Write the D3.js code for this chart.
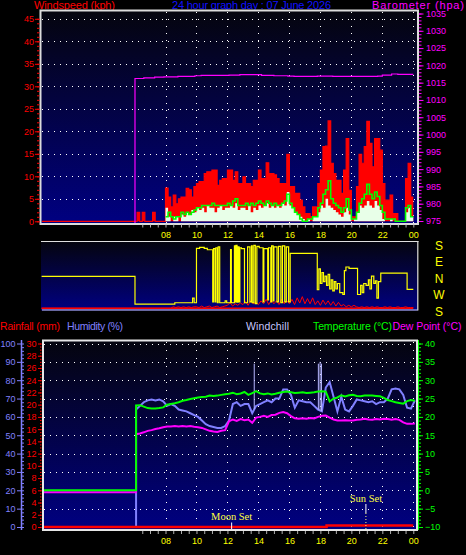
<!DOCTYPE html>
<html><head><meta charset="utf-8">
<script src="https://cdn.jsdelivr.net/npm/d3@7"></script>
<style>html,body{margin:0;background:#000;}svg{display:block;}</style>
</head><body>
<svg id="chart" width="466" height="555"></svg>
<script>
// ---------------- DATA ----------------
const dateTitle = "24 hour graph day : 07 June 2026";
const timeTicks = [8, 10, 12, 14, 16, 18, 20, 22, 24];
const windTicks = [0, 5, 10, 15, 20, 25, 30, 35, 40, 45];
const baroTicks = [975, 980, 985, 990, 995, 1000, 1005, 1010, 1015, 1020, 1025, 1030, 1035];
const dirLabels = ["S", "W", "N", "E", "S"];
const dirLabelValues = [180, 270, 360, 450, 540];
const humTicks = [0, 10, 20, 30, 40, 50, 60, 70, 80, 90, 100];
const rainTicks = [0, 2, 4, 6, 8, 10, 12, 14, 16, 18, 20, 22, 24, 26, 28, 30];
const tempTicks = [-10, -5, 0, 5, 10, 15, 20, 25, 30, 35, 40];

// wind: 10-minute samples from 06:00
const windStart = 6, windStepH = 1 / 6;
const gust = [0,2,0,2,0,0,0,2,0,0,0,0,
  7.4,5.4,3.2,5.8,3.9,5,5.4,5.4,7.3,7,5.4,7.7,
  8.4,8.8,8.8,10.6,11,11,11.4,11.4,8,9.1,9.5,9.5,
  11.4,11.4,9.1,11,8.4,8.4,9.9,8.4,8.4,7.7,9.1,9.1,
  11.4,9.5,9.5,13,10.6,10.6,10.3,9.5,8.4,8.4,8.4,14.9,
  7.7,7.7,6.2,6.2,4.7,3.2,1.7,1.7,1,3.2,3.2,8.4,
  11.4,16.6,16.7,22.3,12.9,10.6,9.1,9.1,6.2,11.4,18.4,6.9,
  1,1,7.7,14.9,12.9,16.6,22.2,17.3,12.1,18.4,18.4,15.8,
  8.4,4.7,4.7,5.8,1.7,1.7,0,0,0,9.5,12.9,5.4];
const speed = [0,0,0,0,0,0,0,0,0,0,0,0,
  3,1,0,1,1,0,1.5,1,2,1.5,2.5,2,
  3,2.5,3,2,3.5,3,3,2,3,3.5,2.5,3,
  3,3.5,3,4,2.5,3,3,2.5,3.5,2,3,2.5,
  3.5,3,3.5,4,3,3.5,3,3.5,3,4,3.5,6.5,
  3.5,3,2,1.5,1,0.5,0,0.5,0,1,1,2,
  3.5,3,5,3.5,3,2.5,2,1.5,1,2,3,1.5,
  0,0.5,2,3.5,3,3.5,4.5,3.5,3,4.5,3.5,2.5,
  0.5,0,0,0.5,0,0,0,0,0,2,3,1];
const avgSpeed = [0,0,0,0,0,0,0,0,0,0,0,0,
  1,2,1,0.5,1,1,2,1.5,2,1.5,2,2.5,
  3,3,3.5,3.5,3.5,3.5,4,3.5,3.5,3.5,3.5,3.5,
  4,3.5,4.5,5,3.5,3.5,3.5,4,3.5,4,3.5,4,
  4.5,4,3.5,4.5,4,3.5,4,3.5,3.5,4,4.5,6,
  4,3,2,1.5,0.5,0,0,0.5,0.5,1,1,3,
  4,6,7,9,5,4,3.5,3,2,3,5,2.5,
  0.5,0.5,2,4,5,6,8.2,6,5,6.5,5.5,3.5,
  2,0.5,0.5,0.5,0.5,0,0,0,0,3,3.5,1];
const avgStart = 8;

const baroTimes = [0, 6.03, 6.6, 7.3, 7.9, 8.8, 9.9, 10.3, 11.3, 12.1, 12.8, 13.9, 14.2, 15.0, 15.9, 16.3, 17.0, 17.8, 18.8, 19.7, 20.5, 21.7, 22.0, 22.6, 23.0];
const baroValues = [0, 1016.2, 1016.4, 1016.6, 1016.7, 1016.8, 1017.0, 1017.1, 1017.1, 1017.2, 1017.3, 1017.3, 1017.1, 1017.0, 1016.9, 1016.8, 1016.8, 1016.9, 1016.8, 1016.8, 1016.8, 1016.9, 1017.2, 1017.5, 1017.4];

// wind direction (compass degrees)
const dirTimes = [0,6.03,8.6,9.75,9.85,10.0,10.2,10.5,10.7,11.05,11.1,11.2,11.25,11.35,11.4,11.5,11.85,11.95,12.2,12.25,12.45,12.5,12.55,12.62,12.68,12.75,12.8,12.9,13.1,13.3,13.45,13.55,13.6,13.7,13.8,13.9,14.05,14.3,14.35,14.6,14.65,14.8,14.85,14.95,15.0,15.2,15.3,15.45,15.55,15.7,15.8,15.95,16.05,17.8,17.9,18.0,18.1,18.2,18.3,18.4,18.5,18.6,18.7,18.8,18.9,19.0,19.1,19.25,19.45,19.55,19.65,19.85,20.4,20.6,20.7,20.8,20.95,21.1,21.2,21.3,21.45,21.55,21.65,21.75,21.9,23.6];
const dirValues = [9,218,225,250,225,162,167,162,154,230,160,230,165,225,170,225,235,225,155,225,175,230,178,228,170,230,165,160,225,170,230,175,225,178,220,172,165,230,160,240,165,230,175,235,170,230,172,225,175,230,170,230,134,297,50,330,30,340,10,320,20,300,350,290,340,300,330,280,270,40,60,52,270,320,280,330,320,350,300,10,330,345,250,340,27,298];

// red trace in direction panel, 10-minute samples from 06:00
const dirPanelRed = [0,0,0,0,0,0,0,0,0,0,0,0,0,0,0,
  1,0.5,1,0.5,1,0.5,1,0.5,1,
  1,0.5,1.5,0.5,1,1.5,0.5,1,1.5,0.5,1,1.5,
  2,3.8,1.5,3,2,3.5,
  2.5,4.5,2,5,3,4,2.5,5,
  3,6,2.5,5.5,3,5,2.5,6,3,5,
  3,6,2.5,7,3.5,7.8,3,6.5,3,7,2.5,
  5,2,5.5,2.5,5,2,4.5,1.5,4,
  1.5,2.5,1,2,1,2,1,
  0.5,1,0.5,1,0.5,1,0.5,1,0.5,0.5,1,0.5,1,0.5,0.5,1,0.5,0.5,1,0.5,0.5];

// lower panel: 15-minute samples from 06:06
const lowStart = 6.1, lowStepH = 0.25;
const temperature = [23.1,23.2,22.8,22.4,22.3,22.3,22.4,22.6,23.3,23.5,23.7,24.0,24.4,24.6,24.9,25.1,25.3,25.4,25.5,25.8,25.7,25.8,26.0,26.2,26.3,26.6,26.2,26.4,26.8,26.0,26.5,27.0,26.4,26.2,26.4,26.1,26.3,26.6,26.8,26.9,26.7,26.5,26.6,26.7,26.5,26.6,26.7,26.9,27.0,26.9,24.2,25.0,25.3,25.9,25.6,25.9,26.0,25.7,25.6,25.8,25.8,25.8,25.7,25.6,25.2,24.6,24.3,24.0,23.8,23.6,24.3,24.6,24.4];
const dewPoint = [15.3,15.5,15.8,16.2,16.4,16.7,16.9,17.2,17.4,17.4,17.5,17.4,17.5,17.4,17.5,17.3,17.2,17.0,16.6,16.2,16.0,15.9,16.2,16.4,18.8,19.3,18.9,19.4,19.1,19.3,18.4,19.8,20.0,20.3,20.0,20.5,20.6,21.1,21.3,21.0,20.2,19.6,19.5,19.6,19.5,19.7,19.6,20.0,20.3,20.4,19.8,19.3,19.0,19.0,19.1,19.0,19.0,19.2,19.3,19.5,19.3,19.2,19.4,19.3,19.5,19.4,19.2,19.4,19.2,18.5,18.1,18.1,18.2];
const humidity = [64,66,68,69,69.5,69,69.5,68.5,66,67,66,64,63.5,63,62,61,60,58,56,55,54.5,54,54,55,58,67,68,66,67,67,62,66,67,68,69,68,70,70,75,75,72,65,69,68.5,68,68,66,64,63,76,79,71,63,71,64,63,66,69.5,69,68.5,68,68.5,67,68,68,70,75,75.5,75,72,65,64.5,69];
const tempBefore = 0, dewBefore = -0.5, humBefore = 0;
const humSpikeTimes = [13.73, 17.87, 17.98, 18.07];
const humSpikeValues = [89, 89, 90, 89];
const rainTimes = [0, 18.4];
const rainValues = [0, 0.25];
const moonSet = 12.27, sunSet = 20.94;

// ---------------- DRAWING ----------------
const FONT = "'Liberation Sans', Arial, sans-serif";
const svg = d3.select("#chart");
const defs = svg.append("defs");
const grad = defs.append("linearGradient").attr("id", "bg").attr("x1", 0).attr("y1", 0).attr("x2", 0).attr("y2", 1);
grad.append("stop").attr("offset", "0%").attr("stop-color", "#05050e");
grad.append("stop").attr("offset", "100%").attr("stop-color", "#000082");

const x = d3.scaleLinear().domain([0, 24]).range([41.6, 413.3]);
const wy = d3.scaleLinear().domain([0, 45]).range([221.3, 18.8]);
const by = d3.scaleLinear().domain([975, 1035]).range([221, 13.5]);
const dy = d3.scaleLinear().domain([180, 540]).range([311, 245]);
const my = d3.scaleLinear().domain([0, 45]).range([308.3, 241]);
const hy = d3.scaleLinear().domain([0, 100]).range([527, 343.5]);
const ry = d3.scaleLinear().domain([0, 30]).range([527, 343.5]);
const ty = d3.scaleLinear().domain([-10, 40]).range([527, 343.5]);

function addClip(id, x0, y0, w, h) {
  defs.append("clipPath").attr("id", id).append("rect").attr("x", x0).attr("y", y0).attr("width", w).attr("height", h);
}
addClip("cTop", 41.5, 11.5, 375.5, 211.5);
addClip("cMid", 41, 242, 376, 67.5);
addClip("cLow", 44, 341.5, 372, 187.5);

function txt(s, xx, yy, col, size, anchor, fam, len) {
  const t = svg.append("text").attr("x", xx).attr("y", yy).attr("fill", col)
    .attr("font-family", fam || FONT).attr("font-size", size)
    .attr("text-anchor", anchor || "start").text(s);
  if (len) t.attr("textLength", len).attr("lengthAdjust", "spacing");
  return t;
}

// titles
txt("Windspeed (kph)", 34, 9, "#ff0000", 11, "start", null, 81);
txt(dateTitle, 172, 9, "#1010ff", 11, "start", null, 159);
txt("Barometer (hpa)", 372, 8.5, "#ff00ff", 11, "start", null, 92);
txt("Rainfall (mm)", 0, 330, "#ff0000", 10.5, "start", null, 60);
txt("Humidity (%)", 67, 330, "#8080ff", 10.5, "start", null, 56);
txt("Windchill", 246, 330, "#c8c8ff", 10.5, "start", null, 43);
txt("Temperature (\u00B0C)", 313, 330, "#00ff00", 10.5, "start", null, 79);
txt("Dew Point (\u00B0C)", 392.5, 330, "#ff00ff", 10.5, "start", null, 69);

// ---- top panel ----
svg.append("rect").attr("x", 40.5).attr("y", 10.5).attr("width", 377.5).attr("height", 213.5).attr("fill", "url(#bg)");
const topG = svg.append("g").attr("clip-path", "url(#cTop)");
topG.selectAll("line.hg").data(windTicks.filter(v => v > 0)).join("line")
  .attr("x1", 42).attr("x2", 417).attr("y1", d => Math.round(wy(d)) + 0.5).attr("y2", d => Math.round(wy(d)) + 0.5)
  .attr("stroke", "#fff").attr("stroke-dasharray", "1,5");
topG.selectAll("line.vg").data(timeTicks).join("line")
  .attr("x1", d => Math.round(x(d)) + 0.5).attr("x2", d => Math.round(x(d)) + 0.5).attr("y1", 12).attr("y2", 223)
  .attr("stroke", "#fff").attr("stroke-dasharray", "1,6");

function stepPts(vals, start, step) {
  const p = vals.map((v, i) => ({ t: start + i * step, v }));
  p.push({ t: 24, v: vals[vals.length - 1] });
  return p;
}
const gustPts = [{ t: 0, v: 0 }].concat(stepPts(gust, windStart, windStepH));
const speedPts = stepPts(speed, windStart, windStepH);
const avgPts = stepPts(avgSpeed, windStart, windStepH);

topG.append("path").datum(gustPts)
  .attr("d", d3.area().x(d => x(d.t)).y0(wy(0)).y1(d => wy(d.v)).curve(d3.curveStepAfter))
  .attr("fill", "#ff0000");
topG.append("path").datum(gustPts)
  .attr("d", d3.line().x(d => x(d.t)).y(d => wy(d.v)).curve(d3.curveStepAfter))
  .attr("fill", "none").attr("stroke", "#ff0000").attr("stroke-width", 1.2);
topG.append("path").datum(speedPts)
  .attr("d", d3.area().x(d => x(d.t)).y0(wy(0)).y1(d => wy(d.v)).curve(d3.curveStepAfter))
  .attr("fill", "#e8ffe8");
topG.append("path").datum(avgPts)
  .attr("d", d3.line().defined(d => d.t >= avgStart).x(d => x(d.t)).y(d => wy(d.v)).curve(d3.curveStepAfter))
  .attr("fill", "none").attr("stroke", "#00ff00").attr("stroke-width", 1.6);
const baroPts = baroTimes.map((t, i) => ({ t, v: baroValues[i] }));
baroPts.push({ t: 24, v: baroValues[baroValues.length - 1] });
topG.append("path").datum(baroPts)
  .attr("d", d3.line().x(d => x(d.t)).y(d => by(d.v)).curve(d3.curveStepAfter))
  .attr("fill", "none").attr("stroke", "#ff00ff").attr("stroke-width", 1.2);
svg.append("rect").attr("x", 40.5).attr("y", 10.5).attr("width", 377.5).attr("height", 213.5)
  .attr("fill", "none").attr("stroke", "#dcdcdc").attr("stroke-width", 2);

function styleAxis(sel, col, size) {
  sel.attr("font-family", FONT).attr("font-size", size || 9);
  sel.select(".domain").remove();
  sel.selectAll("line").attr("stroke", col);
  sel.selectAll("text").attr("fill", col);
}
const fmtInt = d3.format("d");
// wind axis
svg.append("g").attr("transform", "translate(39.5,0)")
  .call(d3.axisLeft(wy).tickValues(d3.range(0, 45.1, 1)).tickSize(2.5).tickFormat(""))
  .call(s => styleAxis(s, "#ff0000"));
svg.append("g").attr("transform", "translate(39.5,0)")
  .call(d3.axisLeft(wy).tickValues(windTicks).tickSize(4.5).tickPadding(1).tickFormat(fmtInt))
  .call(s => styleAxis(s, "#ff0000"));
// barometer axis
svg.append("g").attr("transform", "translate(419,0)")
  .call(d3.axisRight(by).tickValues(d3.range(975, 1035.1, 1)).tickSize(2.5).tickFormat(""))
  .call(s => styleAxis(s, "#ff00ff"));
svg.append("g").attr("transform", "translate(419,0)")
  .call(d3.axisRight(by).tickValues(baroTicks).tickSize(4.5).tickPadding(2.5).tickFormat(fmtInt))
  .call(s => styleAxis(s, "#ff00ff"));

// time axis (shared labels + minor ticks)
const halfHours = d3.range(6.5, 24.01, 0.5);
const fmtHour = d => d3.format("02d")(d % 24);
svg.append("g").attr("transform", "translate(0,224.5)")
  .call(d3.axisBottom(x).tickValues(halfHours).tickSize(3).tickFormat(""))
  .call(s => styleAxis(s, "#b0b0b0"));
svg.append("g").attr("transform", "translate(0,232)")
  .call(d3.axisBottom(x).tickValues(timeTicks).tickSize(0).tickPadding(0).tickFormat(fmtHour))
  .call(s => styleAxis(s, "#ffff00"));

// ---- middle (direction) panel ----
svg.append("rect").attr("x", 41).attr("y", 241.5).attr("width", 376.5).attr("height", 69).attr("fill", "url(#bg)");
const midG = svg.append("g").attr("clip-path", "url(#cMid)");
const redPts = [{ t: 0, v: 0 }].concat(stepPts(dirPanelRed, windStart, windStepH));
midG.append("path").datum(redPts)
  .attr("d", d3.line().x(d => x(d.t)).y(d => my(d.v)))
  .attr("fill", "none").attr("stroke", "#ff0000").attr("stroke-width", 1);
midG.append("path").datum(redPts)
  .attr("d", d3.line().x(d => x(d.t)).y(my(0)))
  .attr("fill", "none").attr("stroke", "#ff0000").attr("stroke-width", 1.8);
const dirPts = dirTimes.map((t, i) => ({ t, v: dirValues[i] < 180 ? dirValues[i] + 360 : dirValues[i] }));
dirPts.push({ t: 24, v: dirPts[dirPts.length - 1].v });
midG.append("path").datum(dirPts)
  .attr("d", d3.line().x(d => x(d.t)).y(d => dy(d.v)).curve(d3.curveStepAfter))
  .attr("fill", "none").attr("stroke", "#ffff00").attr("stroke-width", 1.2);
svg.append("line").attr("x1", 41).attr("x2", 418.5).attr("y1", 241.5).attr("y2", 241.5).attr("stroke", "#e0e0e0").attr("stroke-width", 1.2);
svg.append("line").attr("x1", 417.8).attr("x2", 417.8).attr("y1", 241).attr("y2", 310.5).attr("stroke", "#e0e0e0").attr("stroke-width", 1.2);
svg.append("line").attr("x1", 42).attr("x2", 417.5).attr("y1", 310).attr("y2", 310).attr("stroke", "#d0d0ff").attr("stroke-width", 1);
svg.selectAll("text.dir").data(dirLabels).join("text")
  .attr("x", 439).attr("y", (d, i) => dy(dirLabelValues[i]) + 4.5)
  .attr("text-anchor", "middle").attr("fill", "#ffff00")
  .attr("font-family", FONT).attr("font-size", 12).text(d => d);

// ---- lower panel ----
svg.append("rect").attr("x", 43).attr("y", 340.5).attr("width", 374).attr("height", 189.5).attr("fill", "url(#bg)");
const lowG = svg.append("g").attr("clip-path", "url(#cLow)");
lowG.selectAll("line.hg").data(humTicks.filter(v => v > 0)).join("line")
  .attr("x1", 44).attr("x2", 416).attr("y1", d => Math.round(hy(d)) + 0.5).attr("y2", d => Math.round(hy(d)) + 0.5)
  .attr("stroke", "#fff").attr("stroke-dasharray", "1,5");
lowG.selectAll("line.vg").data(timeTicks).join("line")
  .attr("x1", d => Math.round(x(d)) + 0.5).attr("x2", d => Math.round(x(d)) + 0.5).attr("y1", 342).attr("y2", 529)
  .attr("stroke", "#fff").attr("stroke-dasharray", "1,7");

function lowPts(before, vals) {
  return [{ t: 0, v: before }, { t: lowStart, v: before }]
    .concat(vals.map((v, i) => ({ t: lowStart + i * lowStepH, v })));
}
const humPts = lowPts(humBefore, humidity);
lowG.append("path").datum(humPts)
  .attr("d", d3.line().x(d => x(d.t)).y(d => hy(d.v)))
  .attr("fill", "none").attr("stroke", "#8080ff").attr("stroke-width", 2);
const humAt = d3.scaleLinear().domain(humidity.map((v, i) => lowStart + i * lowStepH)).range(humidity);
lowG.selectAll("line.spike").data(humSpikeTimes).join("line")
  .attr("x1", d => x(d)).attr("x2", d => x(d))
  .attr("y1", d => hy(humAt(d))).attr("y2", (d, i) => hy(humSpikeValues[i]))
  .attr("stroke", "#b8b8ff").attr("stroke-width", 1);
lowG.append("path").datum(lowPts(dewBefore, dewPoint))
  .attr("d", d3.line().x(d => x(d.t)).y(d => ty(d.v)))
  .attr("fill", "none").attr("stroke", "#ff00ff").attr("stroke-width", 2);
lowG.append("path").datum(lowPts(tempBefore, temperature))
  .attr("d", d3.line().x(d => x(d.t)).y(d => ty(d.v)))
  .attr("fill", "none").attr("stroke", "#00ff00").attr("stroke-width", 2);
const rainPts = rainTimes.map((t, i) => ({ t, v: rainValues[i] }));
rainPts.push({ t: 24, v: rainValues[rainValues.length - 1] });
lowG.append("path").datum(rainPts)
  .attr("d", d3.line().x(d => x(d.t)).y(d => ry(d.v)).curve(d3.curveStepAfter))
  .attr("fill", "none").attr("stroke", "#ff0000").attr("stroke-width", 2.5);

// moon / sun events
const SERIF = "'Liberation Serif', 'DejaVu Serif', serif";
svg.append("line").attr("x1", x(moonSet)).attr("x2", x(moonSet)).attr("y1", 522.5).attr("y2", 530).attr("stroke", "#fff").attr("stroke-width", 1);
txt("Moon Set", x(moonSet), 520, "#ffff40", 10.5, "middle", SERIF);
svg.append("line").attr("x1", x(sunSet)).attr("x2", x(sunSet)).attr("y1", 504).attr("y2", 513).attr("stroke", "#fff").attr("stroke-width", 1);
svg.append("line").attr("x1", x(sunSet)).attr("x2", x(sunSet)).attr("y1", 513).attr("y2", 530).attr("stroke", "#ffff80").attr("stroke-width", 1).attr("stroke-dasharray", "1,2");
txt("Sun Set", x(sunSet), 501.5, "#ffff40", 10.5, "middle", SERIF);

svg.append("rect").attr("x", 43).attr("y", 340.5).attr("width", 374).attr("height", 189.5)
  .attr("fill", "none").attr("stroke", "#e6e6e6").attr("stroke-width", 2);

// humidity axis
svg.append("line").attr("x1", 21.5).attr("x2", 21.5).attr("y1", 340).attr("y2", 530).attr("stroke", "#8080ff").attr("stroke-width", 1.5);
svg.append("g").attr("transform", "translate(21.5,0)")
  .call(d3.axisRight(hy).tickValues(d3.range(0, 100.1, 2)).tickSize(2.5).tickFormat(""))
  .call(s => styleAxis(s, "#8080ff"));
svg.append("g").attr("transform", "translate(21.5,0)")
  .call(d3.axisLeft(hy).tickValues(humTicks).tickSize(4.5).tickPadding(1.5).tickFormat(fmtInt))
  .call(s => styleAxis(s, "#8080ff"));
// rain axis
svg.append("g").attr("transform", "translate(41.5,0)")
  .call(d3.axisLeft(ry).tickValues(d3.range(0, 30.01, 0.5)).tickSize(1.5).tickFormat(""))
  .call(s => styleAxis(s, "#ff0000"));
svg.append("g").attr("transform", "translate(41.5,0)")
  .call(d3.axisLeft(ry).tickValues(rainTicks).tickSize(3.5).tickPadding(1.5).tickFormat(fmtInt))
  .call(s => styleAxis(s, "#ff0000"));
// temperature axis
svg.append("line").attr("x1", 418.5).attr("x2", 418.5).attr("y1", 340).attr("y2", 530).attr("stroke", "#00ff00").attr("stroke-width", 1);
svg.append("g").attr("transform", "translate(418.5,0)")
  .call(d3.axisRight(ty).tickValues(d3.range(-10, 40.1, 1)).tickSize(2.5).tickFormat(""))
  .call(s => styleAxis(s, "#00ff00"));
svg.append("g").attr("transform", "translate(418.5,0)")
  .call(d3.axisRight(ty).tickValues(tempTicks).tickSize(4.5).tickPadding(2).tickFormat(fmtInt))
  .call(s => styleAxis(s, "#00ff00"));
// lower time axis
svg.append("g").attr("transform", "translate(0,531)")
  .call(d3.axisBottom(x).tickValues(halfHours).tickSize(3).tickFormat(""))
  .call(s => styleAxis(s, "#b0b0b0"));
svg.append("g").attr("transform", "translate(0,538)")
  .call(d3.axisBottom(x).tickValues(timeTicks).tickSize(0).tickPadding(0).tickFormat(fmtHour))
  .call(s => styleAxis(s, "#ffff00"));
</script>
</body></html>
